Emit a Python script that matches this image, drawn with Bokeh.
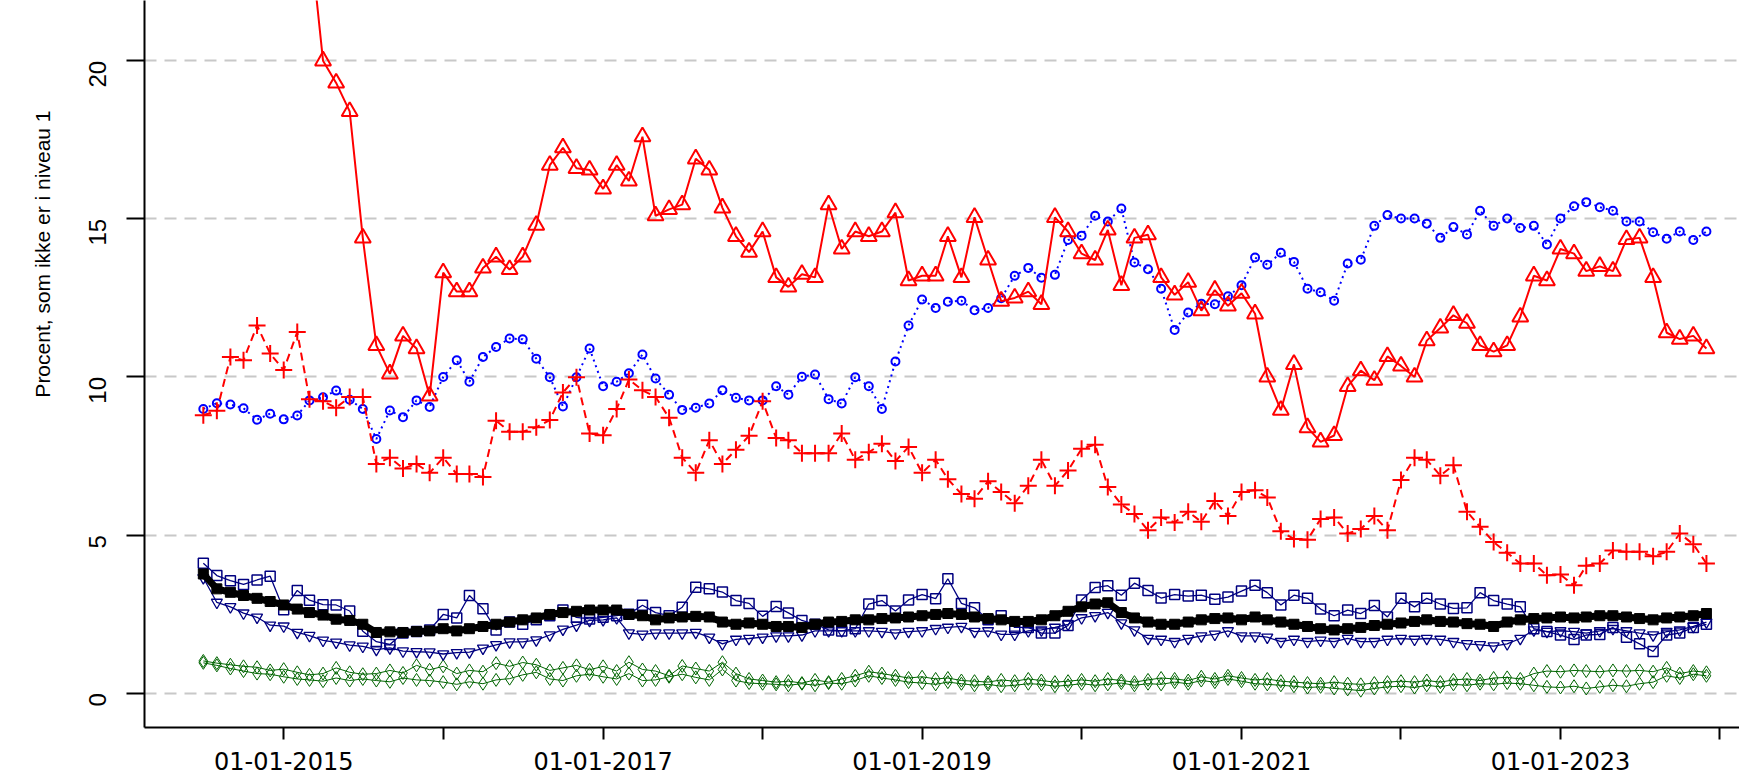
import math
import pandas as pd
from bokeh.plotting import figure
from bokeh.models import Range1d, FixedTicker, Title
from bokeh.embed import file_html
from bokeh.resources import INLINE

# ---------------- data (monthly, 2014-07 .. 2023-12) ----------------
START_MONTH = "2014-07-01"
N_MONTHS = 114

red_triangle = [28.4, 28.0, 27.4, 27.1, 26.5, 26.0, 25.6, 25.1, 24.1, 20.0,
                19.3, 18.4, 14.4, 11.0, 10.1, 11.3, 10.9, 9.4, 13.3, 12.7,
                12.7, 13.45, 13.8, 13.4, 13.8, 14.8, 16.7, 17.25, 16.6, 16.55,
                15.95, 16.7, 16.2, 17.6, 15.1, 15.3, 15.45, 16.9, 16.55, 15.35,
                14.45, 13.95, 14.6, 13.15, 12.85, 13.25, 13.15, 15.45, 14.05, 14.6,
                14.45, 14.6, 15.2, 13.05, 13.2, 13.2, 14.45, 13.15, 15.05, 13.7,
                12.4, 12.5, 12.7, 12.3, 15.05, 14.6, 13.9, 13.7, 14.65, 12.9,
                14.4, 14.5, 13.15, 12.6, 13.0, 12.1, 12.75, 12.25, 12.65, 12.0,
                10.0, 8.95, 10.4, 8.4, 7.95, 8.15, 9.7, 10.2, 9.9, 10.65,
                10.35, 10.0, 11.15, 11.55, 11.95, 11.7, 11.0, 10.8, 11.0, 11.9,
                13.2, 13.05, 14.05, 13.9, 13.35, 13.5, 13.35, 14.35, 14.4, 13.15,
                11.4, 11.2, 11.3, 10.9]

blue_circle = [8.99, 9.17, 9.13, 9.01, 8.65, 8.84, 8.66, 8.78, 9.26, 9.36,
               9.57, 9.28, 8.99, 8.04, 8.94, 8.73, 9.26, 9.05, 10.0, 10.53,
               9.85, 10.63, 10.95, 11.22, 11.19, 10.58, 9.99, 9.07, 9.99, 10.9,
               9.71, 9.85, 10.12, 10.71, 9.95, 9.44, 8.96, 9.03, 9.16, 9.58,
               9.34, 9.26, 9.26, 9.71, 9.44, 10.01, 10.08, 9.3, 9.16, 9.99,
               9.71, 8.99, 10.49, 11.63, 12.45, 12.18, 12.38, 12.41, 12.11, 12.18,
               12.49, 13.2, 13.45, 13.14, 13.23, 14.33, 14.47, 15.1, 14.92, 15.33,
               13.62, 13.41, 12.79, 11.49, 12.04, 12.32, 12.3, 12.55, 12.9, 13.78,
               13.55, 13.93, 13.64, 12.79, 12.68, 12.41, 13.59, 13.71, 14.78, 15.12,
               15.01, 15.01, 14.85, 14.4, 14.74, 14.51, 15.26, 14.78, 15.01, 14.71,
               14.78, 14.19, 15.01, 15.4, 15.53, 15.37, 15.26, 14.92, 14.92, 14.58,
               14.37, 14.6, 14.33, 14.6]

red_plus = [8.79, 8.93, 10.63, 10.53, 11.63, 10.74, 10.22, 11.42, 9.3, 9.23,
            9.03, 9.37, 9.37, 7.25, 7.45, 7.11, 7.25, 6.97, 7.45, 6.93,
            6.93, 6.84, 8.62, 8.27, 8.27, 8.41, 8.64, 9.51, 9.99, 8.21,
            8.16, 8.99, 9.92, 9.58, 9.37, 8.71, 7.45, 6.97, 8.0, 7.25,
            7.7, 8.14, 9.23, 8.07, 8.0, 7.59, 7.59, 7.59, 8.21, 7.38,
            7.62, 7.89, 7.34, 7.79, 6.97, 7.38, 6.77, 6.3, 6.15, 6.7,
            6.36, 6.01, 6.56, 7.38, 6.56, 7.04, 7.73, 7.86, 6.52, 5.97,
            5.67, 5.15, 5.56, 5.4, 5.74, 5.42, 6.08, 5.6, 6.36, 6.42,
            6.19, 5.12, 4.88, 4.85, 5.51, 5.56, 5.05, 5.19, 5.6, 5.15,
            6.74, 7.45, 7.38, 6.88, 7.21, 5.74, 5.26, 4.78, 4.44, 4.1,
            4.1, 3.73, 3.75, 3.41, 4.03, 4.1, 4.51, 4.47, 4.47, 4.33,
            4.47, 5.05, 4.71, 4.1]

navy_square = [4.11, 3.72, 3.56, 3.44, 3.58, 3.7, 2.64, 3.25, 2.94, 2.8,
               2.79, 2.6, 1.96, 1.63, 1.54, 1.9, 1.95, 2.0, 2.49, 2.38,
               3.09, 2.67, 2.0, 2.25, 2.18, 2.32, 2.45, 2.63, 2.4, 2.35,
               2.4, 2.45, 2.5, 2.78, 2.55, 2.45, 2.72, 3.35, 3.3, 3.2,
               2.93, 2.84, 2.43, 2.74, 2.54, 2.3, 2.18, 2.0, 1.97, 2.04,
               2.82, 2.93, 2.6, 2.95, 3.12, 2.99, 3.62, 2.84, 2.7, 2.32,
               2.45, 2.08, 2.08, 1.9, 1.9, 2.14, 2.95, 3.34, 3.4, 3.1,
               3.48, 3.25, 3.01, 3.12, 3.07, 3.1, 2.97, 3.04, 3.23, 3.41,
               3.18, 2.79, 3.1, 3.0, 2.66, 2.45, 2.63, 2.52, 2.77, 2.41,
               3.0, 2.73, 3.0, 2.82, 2.68, 2.7, 3.18, 2.93, 2.82, 2.73,
               2.04, 1.95, 1.84, 1.7, 1.84, 1.86, 2.08, 1.77, 1.56, 1.32,
               1.84, 1.9, 2.08, 2.18]

black_total = [3.77, 3.3, 3.19, 3.09, 3.0, 2.9, 2.79, 2.66, 2.55, 2.47,
               2.34, 2.3, 2.18, 1.92, 1.94, 1.92, 1.95, 1.97, 2.04, 1.97,
               2.04, 2.11, 2.18, 2.25, 2.32, 2.38, 2.49, 2.55, 2.59, 2.63,
               2.63, 2.63, 2.49, 2.45, 2.32, 2.38, 2.41, 2.43, 2.41, 2.25,
               2.18, 2.22, 2.18, 2.11, 2.11, 2.08, 2.18, 2.25, 2.27, 2.32,
               2.32, 2.36, 2.38, 2.41, 2.45, 2.49, 2.52, 2.49, 2.41, 2.36,
               2.32, 2.27, 2.27, 2.32, 2.45, 2.59, 2.73, 2.82, 2.86, 2.55,
               2.38, 2.25, 2.18, 2.18, 2.25, 2.32, 2.36, 2.38, 2.32, 2.41,
               2.32, 2.25, 2.18, 2.11, 2.04, 2.0, 2.04, 2.08, 2.14, 2.18,
               2.22, 2.27, 2.32, 2.27, 2.25, 2.2, 2.18, 2.11, 2.25, 2.32,
               2.36, 2.38, 2.41, 2.38, 2.41, 2.45, 2.45, 2.41, 2.36, 2.32,
               2.38, 2.41, 2.45, 2.52]

navy_triangle = [3.65, 2.87, 2.73, 2.53, 2.4, 2.15, 2.12, 1.92, 1.82, 1.67,
                 1.61, 1.52, 1.48, 1.38, 1.43, 1.33, 1.31, 1.3, 1.24, 1.28,
                 1.3, 1.42, 1.53, 1.62, 1.62, 1.68, 1.84, 2.02, 2.15, 2.3,
                 2.32, 2.38, 1.9, 1.86, 1.9, 1.9, 1.9, 1.92, 1.77, 1.56,
                 1.7, 1.73, 1.77, 1.81, 1.81, 1.84, 1.97, 1.97, 1.97, 1.97,
                 1.97, 1.95, 1.9, 1.95, 1.97, 2.04, 2.08, 2.11, 1.95, 1.97,
                 1.86, 1.86, 1.97, 2.0, 2.08, 2.18, 2.38, 2.45, 2.55, 2.22,
                 2.0, 1.73, 1.7, 1.63, 1.73, 1.81, 1.86, 1.97, 1.81, 1.81,
                 1.77, 1.63, 1.7, 1.63, 1.67, 1.63, 1.73, 1.63, 1.63, 1.7,
                 1.73, 1.7, 1.73, 1.7, 1.63, 1.56, 1.53, 1.49, 1.56, 1.73,
                 2.0, 1.95, 1.97, 1.95, 1.9, 1.97, 2.04, 1.97, 1.9, 1.84,
                 1.95, 2.0, 2.11, 2.25]

green_a = [1.02, 0.95, 0.90, 0.85, 0.82, 0.72, 0.76, 0.66, 0.58, 0.62, 0.80, 0.66, 0.60, 0.62, 0.72, 0.64, 0.88, 0.74,
           0.85, 0.62, 0.72, 0.68, 0.95, 0.85, 0.97, 0.90, 0.72, 0.80, 0.88, 0.74,
           0.85, 0.70, 0.98, 0.75, 0.70, 0.55, 0.86, 0.78, 0.70, 0.98, 0.62, 0.45,
           0.40, 0.35, 0.38, 0.32, 0.42, 0.35, 0.45, 0.55, 0.68, 0.62, 0.55, 0.48,
           0.52, 0.45, 0.48, 0.40, 0.38, 0.35, 0.42, 0.38, 0.45, 0.40, 0.35, 0.38,
           0.42, 0.38, 0.45, 0.40, 0.35, 0.42, 0.48, 0.45, 0.40, 0.52, 0.45, 0.55,
           0.48, 0.42, 0.45, 0.38, 0.35, 0.32, 0.30, 0.35, 0.30, 0.28, 0.32, 0.35,
           0.38, 0.35, 0.40, 0.35, 0.42, 0.45, 0.40, 0.48, 0.50, 0.45, 0.62, 0.70,
           0.68, 0.72, 0.70, 0.68, 0.72, 0.70, 0.72, 0.68, 0.80, 0.62, 0.70, 0.66]

green_b = [0.96, 0.88, 0.78, 0.70, 0.62, 0.60, 0.52, 0.45, 0.42, 0.38, 0.48, 0.40, 0.45, 0.40, 0.36, 0.48, 0.42, 0.40,
           0.35, 0.28, 0.36, 0.30, 0.42, 0.46, 0.58, 0.66, 0.45, 0.40, 0.55, 0.60,
           0.52, 0.45, 0.62, 0.40, 0.42, 0.52, 0.60, 0.50, 0.42, 0.75, 0.40, 0.32,
           0.30, 0.28, 0.25, 0.30, 0.25, 0.32, 0.30, 0.40, 0.55, 0.48, 0.42, 0.35,
           0.32, 0.28, 0.35, 0.30, 0.25, 0.28, 0.22, 0.25, 0.30, 0.28, 0.22, 0.25,
           0.30, 0.25, 0.28, 0.32, 0.25, 0.30, 0.28, 0.35, 0.30, 0.40, 0.35, 0.45,
           0.38, 0.30, 0.28, 0.25, 0.22, 0.18, 0.20, 0.15, 0.12, 0.08, 0.15, 0.20,
           0.22, 0.18, 0.25, 0.20, 0.28, 0.25, 0.30, 0.28, 0.32, 0.30, 0.25, 0.20,
           0.18, 0.22, 0.15, 0.20, 0.25, 0.22, 0.30, 0.35, 0.55, 0.48, 0.60, 0.55]

y_ticks = [0, 5, 10, 15, 20]
x_tick_years = [2015, 2016, 2017, 2018, 2019, 2020, 2021, 2022, 2023, 2024]
x_labelled_years = [2015, 2017, 2019, 2021, 2023]
y_title = "Procent, som ikke er i niveau 1"

for name, arr in [("red_triangle", red_triangle), ("blue_circle", blue_circle),
                  ("red_plus", red_plus), ("navy_square", navy_square),
                  ("black_total", black_total), ("navy_triangle", navy_triangle),
                  ("green_a", green_a), ("green_b", green_b)]:
    if len(arr) != N_MONTHS:
        raise ValueError(f"{name} has {len(arr)} values")

# ---------------- x coordinates (ms since epoch) ----------------
EPOCH = pd.Timestamp("1970-01-01")
MS = pd.Timedelta(milliseconds=1)
months = pd.date_range(START_MONTH, periods=N_MONTHS, freq="MS")
x = [(m - EPOCH) / MS for m in months]

DAY_MS = 86400000.0
t2015 = (pd.Timestamp("2015-01-01") - EPOCH) / MS
x_start = t2015 - 318.6 * DAY_MS
x_end = t2015 + 3331.7 * DAY_MS

tick_ms = [int((pd.Timestamp(f"{y}-01-01") - EPOCH) / MS) for y in x_tick_years]
overrides = {}
for y, t in zip(x_tick_years, tick_ms):
    overrides[t] = f"01-01-{y}" if y in x_labelled_years else ""

# ---------------- figure ----------------
p = figure(frame_width=1595, frame_height=727,
           min_border_left=144, min_border_right=0, min_border_top=0, min_border_bottom=53,
           x_range=Range1d(x_start, x_end), y_range=Range1d(-1.085, 21.907),
           output_backend="svg", toolbar_location=None, title=None)
p.outline_line_color = None
p.background_fill_color = "white"
p.border_fill_color = "white"

# grid
p.xgrid.visible = False
p.ygrid.ticker = FixedTicker(ticks=y_ticks)
p.ygrid.grid_line_color = "#C8C8C8"
p.ygrid.grid_line_dash = "12 8"
p.ygrid.grid_line_width = 2

# y axis
p.yaxis.ticker = FixedTicker(ticks=y_ticks)
p.yaxis.axis_line_width = 2
p.yaxis.major_tick_line_width = 2
p.yaxis.major_tick_out = 18
p.yaxis.major_tick_in = 0
p.yaxis.minor_tick_line_color = None
p.yaxis.major_label_orientation = math.pi / 2
p.yaxis.major_label_standoff = 29
p.yaxis.major_label_text_font = "Liberation Sans"
p.yaxis.major_label_text_font_size = "24px"
p.yaxis.major_label_text_color = "black"

# x axis
p.xaxis.ticker = FixedTicker(ticks=tick_ms)
p.xaxis.major_label_overrides = overrides
p.xaxis.axis_line_width = 2
p.xaxis.major_tick_line_width = 2
p.xaxis.major_tick_out = 12
p.xaxis.major_tick_in = 0
p.xaxis.minor_tick_line_color = None
p.xaxis.major_label_standoff = 12
p.xaxis.major_label_text_font = "DejaVu Sans"
p.xaxis.major_label_text_font_size = "24px"
p.xaxis.major_label_text_color = "black"

# y title (placed in the left border, towards the top like the original)
p.add_layout(Title(text=y_title, align="right", offset=110, vertical_align="middle",
                   standoff=46, text_font="Liberation Sans", text_font_size="21px",
                   text_font_style="normal", text_color="black"), "left")

# ---------------- series ----------------
GREEN = "#006400"
NAVY = "#000080"
BLUE = "#0000FF"
RED = "#FF0000"

for g in (green_a, green_b):
    p.line(x, g, line_color=GREEN, line_width=1)
    p.scatter(x, g, marker="diamond", size=13, line_color=GREEN, fill_alpha=0, line_width=1)

p.line(x, navy_triangle, line_color=NAVY, line_width=1.3)
p.scatter(x, navy_triangle, marker="inverted_triangle", size=11, line_color=NAVY,
          fill_alpha=0, line_width=1.3)

p.line(x, navy_square, line_color=NAVY, line_width=1.3)
p.scatter(x, navy_square, marker="square", size=10, line_color=NAVY, fill_alpha=0, line_width=1.5)

p.line(x, black_total, line_color="black", line_width=7)
p.scatter(x, black_total, marker="square", size=10, line_color="black", fill_color="black")

p.line(x, blue_circle, line_color=BLUE, line_width=2, line_dash="2 4")
p.scatter(x, blue_circle, marker="circle", size=8, line_color=BLUE, fill_alpha=0, line_width=2)

p.line(x, red_plus, line_color=RED, line_width=2, line_dash="8 5")
p.scatter(x, red_plus, marker="cross", size=17, line_color=RED, line_width=2)

p.line(x, red_triangle, line_color=RED, line_width=2)
p.scatter(x, red_triangle, marker="triangle", size=16, line_color=RED, fill_alpha=0, line_width=2)

open("out.html", "w").write(file_html(p, INLINE))
